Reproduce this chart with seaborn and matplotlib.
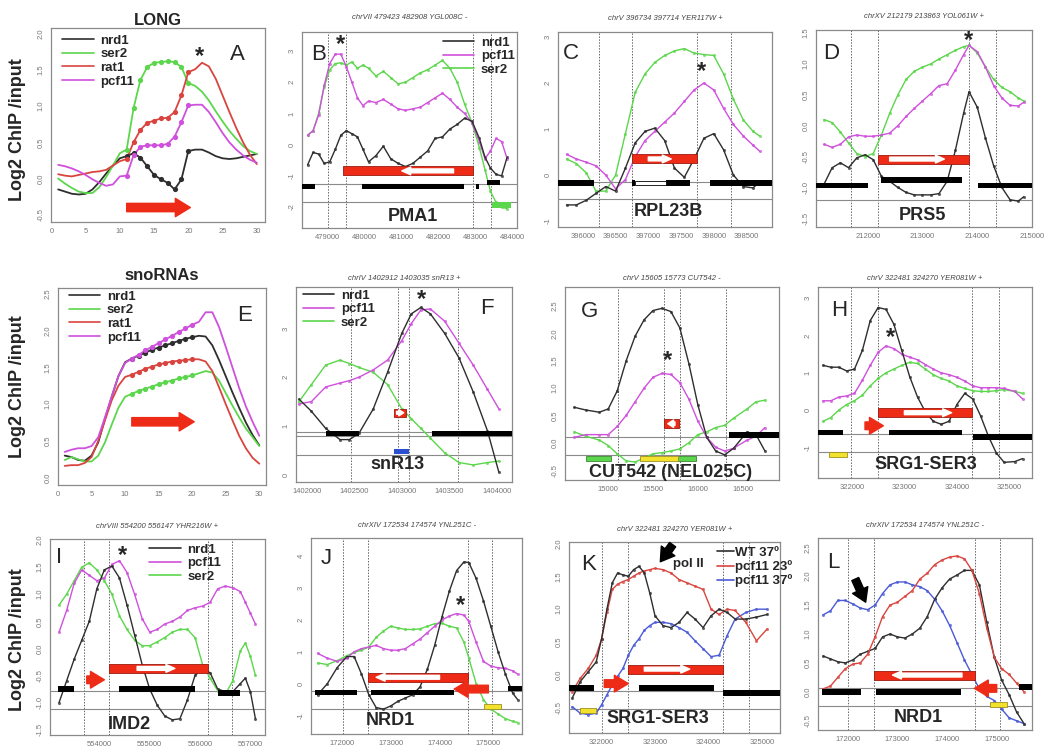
import numpy as np
import matplotlib
matplotlib.use('Agg')
import matplotlib.pyplot as plt
from matplotlib.lines import Line2D
import seaborn as sns

sns.set_style('white')
plt.rcParams['font.family'] = ['Liberation Sans', 'DejaVu Sans']

K_COL = '#2e2e2e'
G_COL = '#5cd64c'
R_COL = '#d9453e'
M_COL = '#cf50dc'
B_COL = '#4a5ad6'
ARR = '#ee2b17'
YEL = '#f2e22e'

# ---------------- A: LONG genes metagene ----------------
A_pos = list(range(1, 31))
A_nrd1 = [-0.15, -0.18, -0.21, -0.22, -0.21, -0.15, -0.05, 0.07, 0.18, 0.28, 0.31, 0.35, 0.29, 0.17, 0.05,
          -0.01, -0.06, -0.15, -0.01, 0.38, 0.40, 0.40, 0.36, 0.31, 0.28, 0.27, 0.28, 0.30, 0.32, 0.34]
A_ser2 = [0.0, -0.07, -0.13, -0.18, -0.2, -0.2, -0.12, 0.02, 0.18, 0.35, 0.40, 0.97, 1.36, 1.54, 1.60,
          1.61, 1.62, 1.61, 1.54, 1.32, 1.28, 1.20, 1.08, 0.93, 0.79, 0.66, 0.55, 0.45, 0.38, 0.34]
A_rat1 = [0.06, 0.04, 0.03, 0.05, 0.07, 0.09, 0.10, 0.12, 0.18, 0.24, 0.27, 0.50, 0.67, 0.77, 0.80,
          0.83, 0.84, 0.92, 1.15, 1.47, 1.51, 1.60, 1.55, 1.38, 1.15, 0.92, 0.70, 0.50, 0.33, 0.20]
A_pcf11 = [0.19, 0.17, 0.14, 0.10, 0.05, -0.01, -0.06, -0.10, -0.08, 0.03, 0.04, 0.32, 0.44, 0.46, 0.46,
           0.46, 0.48, 0.58, 0.78, 1.01, 1.02, 1.02, 0.92, 0.78, 0.63, 0.50, 0.40, 0.32, 0.26, 0.22]

# ---------------- E: snoRNAs metagene ----------------
E_pos = list(range(1, 31))
E_nrd1 = [0.30, 0.28, 0.24, 0.23, 0.30, 0.48, 0.80, 1.10, 1.38, 1.57, 1.62, 1.66, 1.70, 1.74, 1.77,
          1.80, 1.83, 1.86, 1.89, 1.91, 1.93, 1.92, 1.80, 1.60, 1.38, 1.16, 0.95, 0.75, 0.58, 0.44]
E_ser2 = [0.24, 0.28, 0.25, 0.22, 0.22, 0.30, 0.48, 0.72, 0.95, 1.10, 1.14, 1.18, 1.21, 1.24, 1.27,
          1.30, 1.32, 1.35, 1.37, 1.39, 1.42, 1.45, 1.43, 1.32, 1.15, 0.98, 0.82, 0.67, 0.55, 0.43]
E_rat1 = [0.16, 0.17, 0.17, 0.20, 0.28, 0.50, 0.78, 1.05, 1.25, 1.37, 1.40, 1.44, 1.48, 1.51, 1.54,
          1.56, 1.58, 1.59, 1.60, 1.61, 1.61, 1.58, 1.45, 1.23, 1.00, 0.78, 0.57, 0.40, 0.27, 0.19]
E_pcf11 = [0.35, 0.38, 0.40, 0.40, 0.43, 0.55, 0.82, 1.10, 1.38, 1.56, 1.62, 1.67, 1.73, 1.78, 1.83,
           1.88, 1.93, 1.98, 2.03, 2.08, 2.12, 2.25, 2.25, 2.05, 1.78, 1.50, 1.22, 0.97, 0.76, 0.57]

# ---------------- B: PMA1 ----------------
B_x = [478450, 478600, 478750, 478900, 479050, 479200, 479350, 479500, 479650, 479800, 479950, 480100,
       480300, 480500, 480700, 480900, 481100, 481300, 481500, 481700, 481900, 482100, 482300, 482500,
       482700, 482900, 483100, 483250, 483400, 483550, 483700, 483850]
B_ser2 = [0.3, 0.45, 1.0, 1.85, 2.4, 2.6, 2.62, 2.55, 2.65, 2.45, 2.55, 2.45, 2.2, 2.35, 2.15, 1.95,
          2.0, 2.15, 2.3, 2.4, 2.55, 2.7, 2.45, 2.0, 1.3, 0.7, -0.1, -0.8, -1.5, -1.85, -2.0, -2.05]
B_pcf11 = [0.3, 0.45, 0.95, 1.9, 2.6, 2.9, 2.9, 2.5, 2.0, 1.5, 1.25, 1.4, 1.35, 1.45, 1.3, 1.15,
           1.1, 1.15, 1.2, 1.35, 1.5, 1.65, 1.45, 1.2, 1.0, 0.7, 0.1, -0.45, -0.2, 0.2, 0.1, -0.45]
B_nrd1 = [-0.65, -0.25, -0.3, -0.6, -0.55, -0.15, 0.3, 0.45, 0.35, 0.25, -0.15, -0.55, -0.35, -0.05,
          -0.45, -0.6, -0.7, -0.6, -0.4, -0.2, 0.2, 0.25, 0.5, 0.65, 0.85, 0.75, 0.2, -0.4, -0.75,
          -0.95, -1.0, -0.4]
B_dashed = [478990, 479495, 482919, 483405]
B_hl = [-1.25, -1.84]
B_black = [(478300, 478640, -1.34), (479930, 482680, -1.34), (483000, 483080, -1.34), (483300, 483650, -1.21)]
B_gene = (479420, 482920, -0.84)
B_garrow = (482400, 481000)
B_green = [(483450, 483950, -1.93)]

# ---------------- C: RPL23B ----------------
C_x = [395750, 395900, 396050, 396200, 396350, 396500, 396650, 396800, 396950, 397100, 397250,
       397400, 397550, 397700, 397850, 398000, 398150, 398300, 398450, 398600, 398700]
C_ser2 = [0.35, 0.25, 0.05, -0.35, -0.35, 0.0, 0.9, 1.8, 2.2, 2.45, 2.6, 2.7, 2.75, 2.65, 2.62,
          2.6, 2.2, 1.65, 1.2, 0.95, 0.85]
C_pcf11 = [0.45, 0.35, 0.28, 0.2, 0.0, -0.3, -0.1, 0.4, 0.75, 0.95, 1.15, 1.35, 1.6, 1.85, 2.0,
           1.85, 1.45, 1.1, 0.85, 0.65, 0.52]
C_nrd1 = [-0.65, -0.65, -0.55, -0.4, -0.25, -0.35, 0.15, 0.7, 0.95, 1.02, 0.75, 0.15, -0.05, 0.35,
          0.8, 0.9, 0.55, 0.0, -0.25, -0.28, -0.15]
C_dashed = [396240, 396745, 397750, 398260]
C_hl = [-0.16, -0.52]
C_black = [(395620, 396170, -0.17), (397270, 397640, -0.17), (397950, 398890, -0.17), (396750, 396800, -0.17)]
C_open = [(396800, 397270, -0.17)]
C_gene = (396750, 397750, 0.35)
C_garrow = (397000, 397350)

# ---------------- D: PRS5 ----------------
D_x = [211200, 211350, 211500, 211650, 211800, 211950, 212100, 212250, 212400, 212550, 212700,
       212850, 213000, 213150, 213300, 213450, 213600, 213750, 213850, 214000, 214150, 214300,
       214450, 214600, 214750, 214850]
D_ser2 = [0.1, 0.05, -0.1, -0.28, -0.45, -0.5, -0.45, -0.15, 0.2, 0.5, 0.75, 0.88, 0.95, 1.0, 1.08,
          1.15, 1.22, 1.28, 1.3, 1.18, 0.95, 0.75, 0.62, 0.55, 0.45, 0.4]
D_pcf11 = [-0.3, -0.35, -0.3, -0.18, -0.15, -0.17, -0.17, -0.15, -0.12, 0.0, 0.15, 0.28, 0.4, 0.52,
           0.65, 0.68, 0.9, 1.15, 1.3, 1.2, 0.95, 0.65, 0.45, 0.33, 0.32, 0.38]
D_nrd1 = [-0.95, -0.68, -0.6, -0.68, -0.52, -0.47, -0.55, -0.82, -0.9, -1.0, -1.08, -1.12, -1.12,
          -1.12, -1.1, -0.9, -0.4, 0.2, 0.55, 0.3, -0.2, -0.65, -1.0, -1.2, -1.22, -1.15]
D_dashed = [211695, 212183, 213853, 214347]
D_hl = [-1.2]
D_black = [(211055, 212000, -0.97), (212250, 213730, -0.88), (214020, 215000, -0.97)]
D_gene = (212183, 213853, -0.54)
D_garrow = (212400, 213400)

# ---------------- F: snR13 ----------------
F_x = [1401920, 1402050, 1402200, 1402350, 1402450, 1402550, 1402700, 1402850, 1403000, 1403100,
       1403200, 1403300, 1403450, 1403600, 1403750, 1403900, 1404020]
F_nrd1 = [1.55, 1.3, 0.95, 0.72, 0.72, 0.85, 1.35, 2.1, 2.9, 3.3, 3.43, 3.3, 2.9, 2.4, 1.7, 0.9, 0.05]
F_pcf11 = [1.45, 1.5, 1.8, 1.88, 1.93, 2.0, 2.15, 2.35, 2.75, 3.1, 3.38, 3.4, 3.15, 2.7, 2.25, 1.75, 1.35]
F_ser2 = [1.5, 1.85, 2.25, 2.35, 2.28, 2.2, 2.1, 1.85, 1.35, 1.15, 0.95, 0.75, 0.45, 0.25, 0.2, 0.25, 0.28]
F_dashed = [1402463, 1402958, 1403077, 1403586]
F_hl = [0.88, 0.80, 0.41]
F_black = [(1402200, 1402550, 0.84), (1403320, 1404158, 0.84)]
F_box = (1402920, 1403040, 1.27)
F_blue = [(1402920, 1403080, 0.47)]

# ---------------- G: CUT542 ----------------
G_x = [14620, 14750, 14900, 15000, 15100, 15200, 15300, 15400, 15500, 15600, 15700, 15800, 15900,
       16000, 16100, 16200, 16300, 16400, 16550, 16650, 16750]
G_nrd1 = [0.65, 0.6, 0.56, 0.62, 0.95, 1.5, 1.95, 2.25, 2.42, 2.46, 2.4, 2.1, 1.45, 0.7, 0.1, -0.15,
          -0.22, -0.1, 0.2, 0.15, -0.15]
G_pcf11 = [0.1, 0.15, 0.15, 0.15, 0.3, 0.5, 0.75, 1.0, 1.2, 1.27, 1.25, 1.1, 0.8, 0.4, 0.1, -0.08,
           -0.15, -0.1, 0.05, 0.12, 0.28]
G_ser2 = [0.2, 0.12, 0.05, -0.05, -0.2, -0.33, -0.35, -0.28, -0.2, -0.18, -0.15, -0.11, 0.0, 0.15,
          0.2, 0.28, 0.32, 0.45, 0.62, 0.75, 0.78]
G_dashed = [15112, 15621, 15799, 16320]
G_hl = [0.1, -0.23]
G_black = [(16350, 16907, 0.14)]
G_box = (15620, 15790, 0.35)
G_green = [(14750, 15030, -0.28), (15780, 15980, -0.28)]
G_yellow = [(15350, 15780, -0.28)]

# ---------------- H: SRG1-SER3 ----------------
H_x = [321450, 321600, 321750, 321900, 322050, 322200, 322350, 322500, 322650, 322800, 322950,
       323100, 323250, 323400, 323550, 323700, 323850, 324000, 324150, 324300, 324450, 324600,
       324750, 324900, 325100, 325250]
H_nrd1 = [1.2, 1.15, 1.15, 1.05, 1.1, 1.6, 2.4, 2.75, 2.7, 2.3, 1.6, 0.9, 0.35, -0.05, -0.3, -0.38,
          -0.3, 0.15, 0.45, 0.3, -0.15, -0.7, -1.15, -1.4, -1.38, -1.3]
H_pcf11 = [0.25, 0.25, 0.35, 0.38, 0.45, 0.8, 1.2, 1.55, 1.72, 1.65, 1.5, 1.42, 1.35, 1.22, 1.1, 1.0,
           0.95, 0.88, 0.78, 0.65, 0.6, 0.6, 0.6, 0.58, 0.5, 0.3]
H_ser2 = [-0.3, -0.2, 0.0, 0.15, 0.25, 0.4, 0.65, 0.85, 1.0, 1.1, 1.2, 1.28, 1.25, 1.1, 0.95, 0.85,
          0.78, 0.65, 0.58, 0.52, 0.5, 0.5, 0.52, 0.55, 0.5, 0.45]
H_dashed = [321990, 322490, 324295, 324800]
H_hl = [-0.65, -1.13]
H_black = [(321355, 321830, -0.6), (322700, 324100, -0.6), (324300, 325430, -0.72)]
H_gene = (322490, 324295, -0.07)
H_garrow = (323000, 323900)
H_side = (322250, 322600, -0.42)
H_yellow = [(321570, 321900, -1.2)]

# ---------------- I: IMD2 ----------------
I_x = [553200, 553350, 553500, 553650, 553800, 553950, 554100, 554250, 554400, 554550, 554700,
       554850, 555000, 555150, 555300, 555450, 555600, 555750, 555900, 556050, 556200, 556350,
       556500, 556650, 556800, 556900, 557000, 557100]
I_nrd1 = [-1.0, -0.6, -0.2, 0.15, 0.5, 1.1, 1.45, 1.52, 1.3, 0.8, 0.25, -0.3, -0.75, -1.05, -1.25,
          -1.32, -1.3, -0.95, -0.5, -0.38, -0.45, -0.75, -0.8, -0.8, -0.65, -0.55, -0.8, -1.3]
I_pcf11 = [0.3, 0.7, 1.2, 1.45, 1.35, 1.25, 1.3, 1.55, 1.62, 1.4, 1.0, 0.55, 0.3, 0.35, 0.45, 0.5,
           0.58, 0.7, 0.75, 0.78, 0.85, 1.1, 1.15, 1.12, 1.05, 0.85, 0.65, 0.45]
I_ser2 = [0.8, 1.0, 1.25, 1.5, 1.58, 1.45, 1.25, 1.0, 0.6, 0.35, 0.15, 0.05, 0.05, 0.12, 0.2, 0.3,
          0.35, 0.35, 0.2, -0.3, -0.55, -0.78, -0.85, -0.6, -0.05, 0.1, -0.15, -0.5]
I_dashed = [553700, 554200, 556150, 556635]
I_hl = [-0.78, -1.12]
I_black = [(553180, 553500, -0.75), (554400, 555900, -0.75), (556350, 556800, -0.82)]
I_gene = (554200, 556150, -0.37)
I_garrow = (554750, 555500)
I_side = (553750, 554100, -0.58)

# ---------------- J: NRD1 ----------------
J_x = [171500, 171700, 171900, 172100, 172250, 172400, 172550, 172700, 172850, 173000, 173150,
       173300, 173450, 173600, 173750, 173900, 174050, 174200, 174350, 174500, 174600, 174750,
       174900, 175050, 175200, 175350, 175500, 175600]
J_nrd1 = [-0.35, 0.0, 0.5, 0.85, 0.85, 0.3, -0.35, -0.75, -0.8, -0.7, -0.55, -0.45, -0.35, -0.1,
          0.45, 1.2, 2.1, 2.9, 3.55, 3.82, 3.8, 3.3, 2.6, 1.8, 1.0, 0.3, -0.3, -0.5]
J_pcf11 = [0.95, 0.8, 0.7, 0.8, 1.0, 1.1, 1.15, 1.2, 1.1, 1.05, 1.05, 1.1, 1.25, 1.4, 1.6, 1.8,
           2.0, 2.12, 2.2, 2.15, 1.95, 1.3, 0.7, 0.55, 0.5, 0.48, 0.4, 0.3]
J_ser2 = [0.65, 0.6, 0.72, 0.88, 0.98, 1.05, 1.15, 1.45, 1.65, 1.8, 1.75, 1.7, 1.7, 1.72, 1.8, 1.88,
          1.9, 1.8, 1.75, 1.3, 0.8, 0.0, -0.5, -0.8, -0.95, -1.1, -1.18, -1.22]
J_dashed = [172014, 172534, 174574, 175080]
J_hl = [-0.22, -0.8]
J_black = [(171450, 172300, -0.28), (172600, 174300, -0.28), (175400, 175690, -0.15)]
J_gene = (172534, 174574, 0.2)
J_garrow = (174000, 172700)
J_side = (175000, 174300, -0.17)
J_yellow = [(174920, 175250, -0.72)]

# ---------------- K: SRG1-SER3, pcf11 ts ----------------
K_x = [321450, 321600, 321750, 321900, 322000, 322100, 322200, 322300, 322400, 322500, 322600,
       322700, 322800, 322900, 323000, 323150, 323300, 323450, 323600, 323750, 323900, 324050,
       324200, 324350, 324500, 324700, 324900, 325100]
K_wt37 = [-0.35, -0.1, 0.05, 0.2, 0.55, 1.0, 1.4, 1.55, 1.52, 1.5, 1.6, 1.65, 1.55, 1.25, 0.9, 0.75,
          0.72, 0.8, 0.95, 0.85, 0.72, 0.9, 1.0, 0.95, 0.85, 0.85, 0.88, 0.92]
K_pcf23 = [-0.25, -0.05, 0.1, 0.3, 0.55, 0.95, 1.3, 1.38, 1.42, 1.45, 1.5, 1.55, 1.58, 1.6, 1.62,
           1.6, 1.55, 1.45, 1.4, 1.35, 1.3, 1.0, 0.92, 1.0, 0.98, 0.8, 0.52, 0.7]
K_pcf37 = [-0.48, -0.58, -0.6, -0.58, -0.45, -0.3, -0.15, -0.02, 0.1, 0.3, 0.45, 0.55, 0.68, 0.75,
           0.8, 0.8, 0.78, 0.72, 0.65, 0.52, 0.4, 0.28, 0.3, 0.6, 0.85, 0.95, 1.0, 1.0]
K_dashed = [322000, 322490, 324265, 324765]
K_hl = [-0.24, -0.52]
K_black = [(321390, 321850, -0.2), (322700, 324100, -0.2), (324270, 325340, -0.27)]
K_gene = (322490, 324265, 0.09)
K_garrow = (322800, 323650)
K_side = (322050, 322500, -0.13)
K_yellow = [(321600, 321900, -0.54)]

# ---------------- L: NRD1, pcf11 ts ----------------
L_x = [171500, 171650, 171800, 171950, 172100, 172250, 172400, 172550, 172700, 172850, 173000,
       173150, 173300, 173450, 173600, 173750, 173900, 174050, 174200, 174350, 174500, 174650,
       174800, 174950, 175100, 175250, 175400, 175550]
L_pcf37 = [1.33, 1.4, 1.58, 1.58, 1.52, 1.45, 1.42, 1.5, 1.7, 1.85, 1.9, 1.9, 1.85, 1.82, 1.75, 1.6,
           1.4, 1.15, 0.85, 0.55, 0.3, 0.05, -0.08, -0.15, -0.3, -0.45, -0.5, -0.55]
L_wt37 = [0.62, 0.57, 0.52, 0.5, 0.55, 0.65, 0.7, 0.75, 0.95, 1.0, 0.95, 0.93, 1.0, 1.1, 1.3, 1.6,
          1.8, 1.95, 2.02, 2.1, 2.1, 1.85, 1.2, 0.6, 0.2, -0.05, -0.35, -0.55]
L_pcf23 = [0.05, 0.1, 0.25, 0.4, 0.48, 0.5, 0.65, 0.95, 1.3, 1.5, 1.55, 1.65, 1.75, 1.95, 2.05, 2.2,
           2.28, 2.33, 2.35, 2.3, 2.1, 1.7, 1.1, 0.6, 0.4, 0.3, 0.15, 0.0]
L_dashed = [172013, 172537, 174563, 175066]
L_hl = [0.06, -0.25]
L_black = [(171480, 172270, 0.0), (172560, 174270, 0.0), (175450, 175710, 0.08)]
L_gene = (172537, 174563, 0.29)
L_garrow = (174300, 172900)
L_side = (175000, 174550, 0.06)
L_yellow = [(174870, 175200, -0.22)]

W, H = 1050, 754
fig = plt.figure(figsize=(W / 100, H / 100), dpi=100)


def new_ax(l, t, r, b):
    return fig.add_axes([l / W, 1 - b / H, (r - l) / W, (b - t) / H])


def frame(ax, xlim, ylim, xticks, yticks, yfmt='{:.1f}', title=None, pad=6):
    ax.set_xlim(xlim)
    ax.set_ylim(ylim)
    ax.set_xticks(xticks)
    ax.set_xticklabels([str(t) for t in xticks])
    ax.set_yticks(yticks)
    ax.set_yticklabels([yfmt.format(t) for t in yticks], rotation=90, va='center')
    ax.tick_params(labelsize=5.5, colors='#777777', length=2.5, width=0.6, pad=2)
    for s in ax.spines.values():
        s.set_color('#8a8a8a')
        s.set_linewidth(0.9)
    ax.set_xlabel('')
    ax.set_ylabel('')
    if title:
        ax.set_title(title, fontsize=5.5, style='italic', color='#444444', pad=pad)


def px2y(ax, px):
    y0, y1 = ax.get_ylim()
    return px * (y1 - y0) / (ax.get_position().height * H)


def profile(ax, x, series):
    for vals, col in series:
        sns.scatterplot(x=x, y=vals, ax=ax, color=col, s=5, linewidth=0, alpha=0.75, zorder=2)
        sns.lineplot(x=x, y=vals, ax=ax, color=col, lw=1.0, zorder=3)


def metagene(ax, pos, series):
    for vals, col in series:
        sns.lineplot(x=pos, y=vals, ax=ax, color=col, lw=1.3, zorder=3)
        sns.scatterplot(x=pos[10:20], y=vals[10:20], ax=ax, color=col, s=14, linewidth=0, zorder=4)


def guides(ax, dashed, hl):
    for x in dashed:
        ax.axvline(x, color='#666666', lw=0.7, ls=(0, (1.5, 1.5)), zorder=1)
    for y in hl:
        ax.axhline(y, color='#8a8a8a', lw=0.8, zorder=1)


def bars(ax, segs, color='black', px=5.5, edge='none'):
    h = px2y(ax, px)
    for x0, x1, y in segs:
        ax.broken_barh([(x0, x1 - x0)], (y - h / 2, h), facecolors=color, edgecolors=edge, lw=0.6, zorder=4)


def arrow(ax, x0, x1, y, color, ms, tail=0.4, head=0.9, hl=0.7, z=6, y0=None):
    ax.annotate('', xy=(x1, y), xytext=(x0, y if y0 is None else y0), zorder=z,
                arrowprops=dict(arrowstyle=f'simple,head_length={hl},head_width={head},tail_width={tail}',
                                fc=color, ec=color, mutation_scale=ms, shrinkA=0, shrinkB=0))


def gene(ax, seg, garrow, px=9):
    x0, x1, y = seg
    bars(ax, [seg], color=ARR, px=px, edge='#9a1a10')
    arrow(ax, garrow[0], garrow[1], y, 'white', 8, tail=0.35, head=0.7, hl=0.8)


def legend(ax, names, cols, hlen=2.4, tpad=0.5, **kw):
    handles = [Line2D([], [], color=c, lw=1.2) for c in cols]
    ax.legend(handles, names, frameon=False, prop={'weight': 'bold', 'size': 9.5}, handlelength=hlen,
              handletextpad=tpad, labelspacing=0.1, borderaxespad=0.1, **kw)


def letter(ax, x, y, s):
    ax.text(x, y, s, fontsize=16, ha='center', va='center', zorder=8)


def star(ax, x, y):
    ax.text(x, y, '*', fontsize=17, fontweight='bold', ha='center', va='center', zorder=8)


def label(ax, x, y, s):
    ax.text(x, y, s, fontsize=13, fontweight='bold', ha='center', va='center', zorder=8)


# ---------- row 1 ----------
ax = new_ax(51, 28, 265, 222)
metagene(ax, A_pos, [(A_nrd1, K_COL), (A_ser2, G_COL), (A_rat1, R_COL), (A_pcf11, M_COL)])
frame(ax, (-0.05, 31.2), (-0.6, 2.08), list(range(0, 31, 5)), [-0.5, 0.0, 0.5, 1.0, 1.5, 2.0])
ax.set_title('LONG', fontsize=12, fontweight='bold', pad=2)
legend(ax, ['nrd1', 'ser2', 'rat1', 'pcf11'], [K_COL, G_COL, R_COL, M_COL], loc='upper left', bbox_to_anchor=(0.02, 1.0))
arrow(ax, 11, 20.3, -0.4, ARR, 12, tail=0.5, head=1.1, hl=0.9)
letter(ax, 27.2, 1.72, 'A')
star(ax, 21.6, 1.68)

ax = new_ax(302, 32, 517, 228)
guides(ax, B_dashed, B_hl)
profile(ax, B_x, [(B_ser2, G_COL), (B_pcf11, M_COL), (B_nrd1, K_COL)])
frame(ax, (478300, 484117), (-2.67, 3.61), list(range(479000, 484001, 1000)), list(range(-2, 4)), '{:.0f}',
      'chrVII 479423 482908 YGL008C -', 9)
bars(ax, B_black)
bars(ax, B_green, color=G_COL)
gene(ax, B_gene, B_garrow)
legend(ax, ['nrd1', 'pcf11', 'ser2'], [K_COL, M_COL, G_COL], loc='upper right', bbox_to_anchor=(1.02, 1.01))
label(ax, 481300, -2.3, 'PMA1')
letter(ax, 478750, 2.9, 'B')
star(ax, 479350, 3.2)

ax = new_ax(558, 32, 772, 227)
guides(ax, C_dashed, C_hl)
profile(ax, C_x, [(C_ser2, G_COL), (C_pcf11, M_COL), (C_nrd1, K_COL)])
frame(ax, (395620, 398890), (-1.13, 3.11), list(range(396000, 398501, 500)), list(range(-1, 4)), '{:.0f}',
      'chrV 396734 397714 YER117W +', 9)
bars(ax, C_black)
bars(ax, C_open, color='white', px=4, edge='black')
gene(ax, C_gene, C_garrow)
label(ax, 397300, -0.8, 'RPL23B')
letter(ax, 395810, 2.65, 'C')
star(ax, 397810, 2.25)

ax = new_ax(816, 30, 1032, 227)
guides(ax, D_dashed, D_hl)
profile(ax, D_x, [(D_ser2, G_COL), (D_pcf11, M_COL), (D_nrd1, K_COL)])
frame(ax, (211055, 215000), (-1.64, 1.55), list(range(212000, 215001, 1000)),
      [-1.5, -1.0, -0.5, 0.0, 0.5, 1.0, 1.5], '{:.1f}', 'chrXV 212179 213863 YOL061W +', 9)
bars(ax, D_black)
gene(ax, D_gene, D_garrow)
label(ax, 213000, -1.45, 'PRS5')
letter(ax, 211340, 1.17, 'D')
star(ax, 213840, 1.38)

# ---------- row 2 ----------
ax = new_ax(58, 288, 266, 485)
metagene(ax, E_pos, [(E_nrd1, K_COL), (E_ser2, G_COL), (E_rat1, R_COL), (E_pcf11, M_COL)])
frame(ax, (0, 31), (-0.1, 2.58), list(range(0, 31, 5)), [0.0, 0.5, 1.0, 1.5, 2.0, 2.5])
ax.set_title('snoRNAs', fontsize=12, fontweight='bold', pad=6)
legend(ax, ['nrd1', 'ser2', 'rat1', 'pcf11'], [K_COL, G_COL, R_COL, M_COL], loc='upper left', bbox_to_anchor=(0.02, 1.02))
arrow(ax, 11, 20.3, 0.76, ARR, 12, tail=0.5, head=1.1, hl=0.9)
letter(ax, 27.8, 2.2, 'E')

ax = new_ax(296, 287, 512, 482)
guides(ax, F_dashed, F_hl)
profile(ax, F_x, [(F_ser2, G_COL), (F_pcf11, M_COL), (F_nrd1, K_COL)])
frame(ax, (1401888, 1404158), (-0.15, 3.85), list(range(1402000, 1404001, 500)), list(range(0, 4)), '{:.0f}',
      'chrIV 1402912 1403035 snR13 +', 5)
bars(ax, F_black)
bars(ax, F_blue, color='#2a4fd0', px=5)
bars(ax, [F_box], color=ARR, px=8, edge='#9a1a10')
arrow(ax, F_box[0] + 25, F_box[1] - 20, F_box[2], 'white', 5, tail=0.4, head=0.9, hl=0.7)
legend(ax, ['nrd1', 'pcf11', 'ser2'], [K_COL, M_COL, G_COL], loc='upper left', bbox_to_anchor=(0.0, 1.02))
label(ax, 1402950, 0.2, 'snR13')
letter(ax, 1403895, 3.4, 'F')
star(ax, 1403210, 3.6)

ax = new_ax(565, 287, 779, 480)
guides(ax, G_dashed, G_hl)
profile(ax, G_x, [(G_ser2, G_COL), (G_pcf11, M_COL), (G_nrd1, K_COL)])
frame(ax, (14517, 16907), (-0.68, 2.85), list(range(15000, 16501, 500)),
      [-0.5, 0.0, 0.5, 1.0, 1.5, 2.0, 2.5], '{:.1f}', 'chrV 15605 15773 CUT542 -', 5)
bars(ax, G_black)
bars(ax, G_green, color=G_COL, px=5, edge='#3a8a30')
bars(ax, G_yellow, color=YEL, px=5, edge='#a09020')
bars(ax, [G_box], color=ARR, px=9, edge='#9a1a10')
arrow(ax, G_box[1] - 45, G_box[0] + 45, G_box[2], 'white', 6, tail=0.4, head=0.9, hl=0.7)
label(ax, 15700, -0.55, 'CUT542 (NEL025C)')
letter(ax, 14795, 2.4, 'G')
star(ax, 15660, 1.5)

ax = new_ax(818, 287, 1032, 478)
guides(ax, H_dashed, H_hl)
profile(ax, H_x, [(H_ser2, G_COL), (H_pcf11, M_COL), (H_nrd1, K_COL)])
frame(ax, (321355, 325430), (-1.82, 3.3), list(range(322000, 325001, 1000)), list(range(-1, 4)), '{:.0f}',
      'chrV 322481 324270 YER081W +', 5)
bars(ax, H_black)
bars(ax, H_yellow, color=YEL, px=5, edge='#a09020')
gene(ax, H_gene, H_garrow)
arrow(ax, H_side[0], H_side[1], H_side[2], ARR, 10, tail=0.55, head=1.2, hl=1.0)
label(ax, 323400, -1.45, 'SRG1-SER3')
letter(ax, 321766, 2.66, 'H')
star(ax, 322740, 1.95)

# ---------- row 3 ----------
ax = new_ax(50, 539, 265, 735)
guides(ax, I_dashed, I_hl)
profile(ax, I_x, [(I_ser2, G_COL), (I_pcf11, M_COL), (I_nrd1, K_COL)])
frame(ax, (553020, 557290), (-1.6, 2.02), list(range(554000, 557001, 1000)),
      [-1.5, -1.0, -0.5, 0.0, 0.5, 1.0, 1.5, 2.0], '{:.1f}', 'chrVIII 554200 556147 YHR216W +', 8)
bars(ax, I_black)
gene(ax, I_gene, I_garrow)
arrow(ax, I_side[0], I_side[1], I_side[2], ARR, 10, tail=0.55, head=1.2, hl=1.0)
legend(ax, ['nrd1', 'pcf11', 'ser2'], [K_COL, M_COL, G_COL], loc='upper left', bbox_to_anchor=(0.43, 1.01))
label(ax, 554600, -1.4, 'IMD2')
letter(ax, 553205, 1.67, 'I')
star(ax, 554450, 1.72)

ax = new_ax(311, 538, 522, 734)
guides(ax, J_dashed, J_hl)
profile(ax, J_x, [(J_ser2, G_COL), (J_pcf11, M_COL), (J_nrd1, K_COL)])
frame(ax, (171365, 175690), (-1.58, 4.57), list(range(172000, 175001, 1000)), list(range(-1, 5)), '{:.0f}',
      'chrXIV 172534 174574 YNL251C -', 8)
bars(ax, J_black)
bars(ax, J_yellow, color=YEL, px=5, edge='#a09020')
gene(ax, J_gene, J_garrow)
arrow(ax, J_side[0], J_side[1], J_side[2], ARR, 10, tail=0.55, head=1.2, hl=1.0)
label(ax, 173000, -1.15, 'NRD1')
letter(ax, 171670, 3.94, 'J')
star(ax, 174420, 2.45)

ax = new_ax(569, 542, 780, 733)
guides(ax, K_dashed, K_hl)
profile(ax, K_x, [(K_pcf37, B_COL), (K_pcf23, R_COL), (K_wt37, K_COL)])
frame(ax, (321390, 325340), (-0.88, 2.02), list(range(322000, 325001, 1000)),
      [-0.5, 0.0, 0.5, 1.0, 1.5, 2.0], '{:.1f}', 'chrV 322481 324270 YER081W +', 8)
bars(ax, K_black)
bars(ax, K_yellow, color=YEL, px=5, edge='#a09020')
gene(ax, K_gene, K_garrow)
arrow(ax, K_side[0], K_side[1], K_side[2], ARR, 10, tail=0.55, head=1.2, hl=1.0)
legend(ax, ['WT 37º', 'pcf11 23º', 'pcf11 37º'], [K_COL, R_COL, B_COL], hlen=1.3, tpad=0.1,
       loc='upper left', bbox_to_anchor=(0.67, 1.01))
arrow(ax, 323330, 323100, 1.72, 'black', 12, tail=0.45, head=1.0, hl=0.8, y0=1.98)
ax.text(323330, 1.68, 'pol II', fontsize=9.5, fontweight='bold', va='center', zorder=8)
label(ax, 323050, -0.66, 'SRG1-SER3')
letter(ax, 321750, 1.68, 'K')

ax = new_ax(818, 538, 1032, 730)
guides(ax, L_dashed, L_hl)
profile(ax, L_x, [(L_pcf37, B_COL), (L_wt37, K_COL), (L_pcf23, R_COL)])
frame(ax, (171400, 175710), (-0.66, 2.66), list(range(172000, 175001, 1000)),
      [-0.5, 0.0, 0.5, 1.0, 1.5, 2.0, 2.5], '{:.1f}', 'chrXIV 172534 174574 YNL251C -', 8)
bars(ax, L_black)
bars(ax, L_yellow, color=YEL, px=5, edge='#a09020')
gene(ax, L_gene, L_garrow)
arrow(ax, L_side[0], L_side[1], L_side[2], ARR, 10, tail=0.55, head=1.2, hl=1.0)
arrow(ax, 172150, 172360, 1.55, 'black', 12, tail=0.45, head=1.0, hl=0.8, y0=1.95)
label(ax, 173430, -0.45, 'NRD1')
letter(ax, 171718, 2.23, 'L')

for yc in (130, 387, 640):
    fig.text(18 / W, 1 - yc / H, 'Log2 ChIP /input', rotation=90, fontsize=13, fontweight='bold',
             ha='center', va='center')

fig.savefig('out.png', dpi=100)
